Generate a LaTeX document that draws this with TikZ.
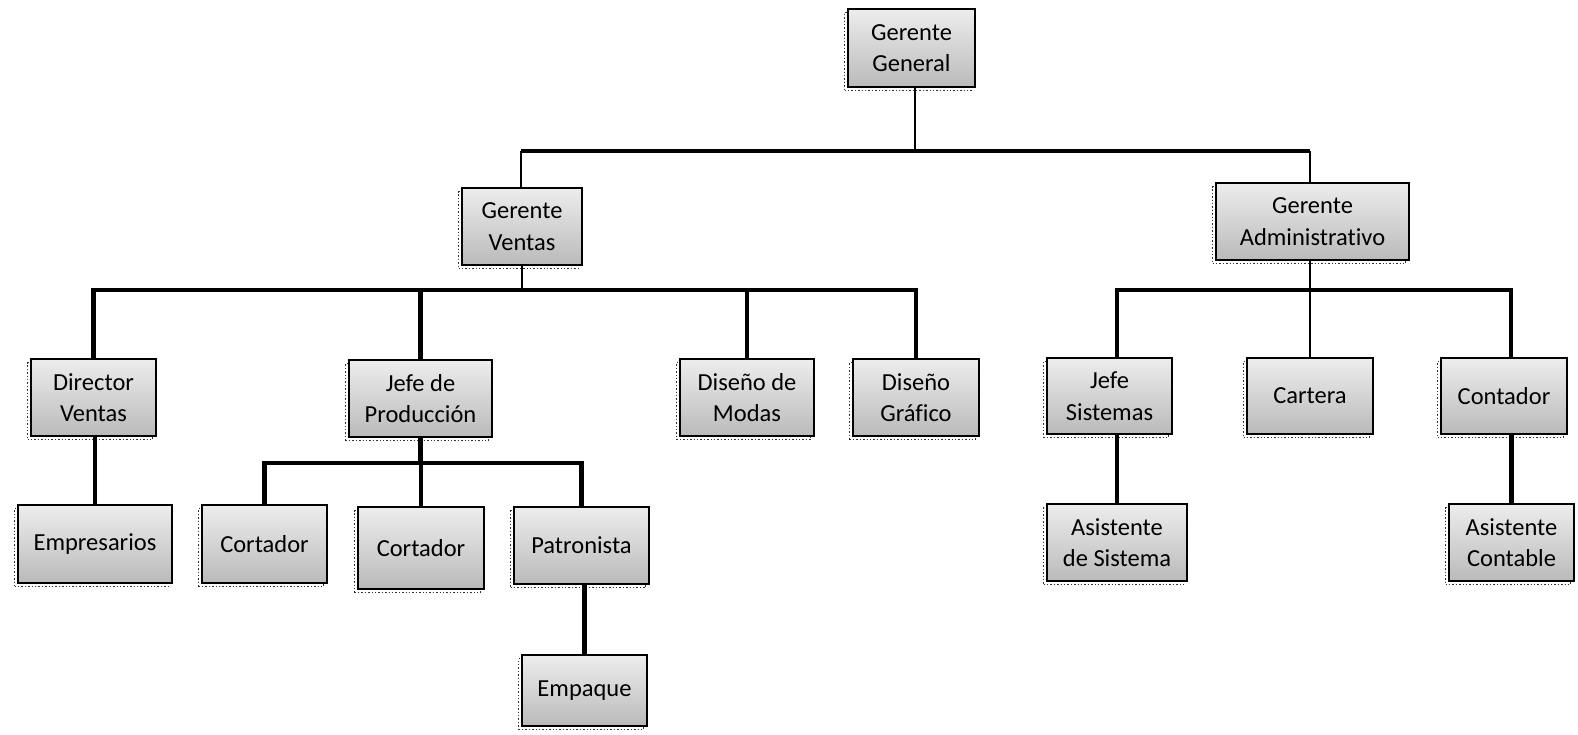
\documentclass[tikz,border=0pt]{standalone}
\usepackage{fontspec}
\setmainfont[Ligatures=NoCommon]{Carlito}
\definecolor{boxtop}{RGB}{237,237,237}
\definecolor{boxbot}{RGB}{186,186,186}
\begin{document}
\begin{tikzpicture}[x=1pt,y=-1pt,
  orgbox/.style={draw=black, line width=2.9pt, top color=boxtop, bottom color=boxbot,
    align=center, inner sep=0pt, font=\fontsize{24.5}{31.5}\selectfont,
    preaction={draw=black!80, dotted, line width=1.4pt,
      transform canvas={shift={(-3.5pt,-3.5pt)}}}},
  sz/.style 2 args={minimum width=#1pt, minimum height=#2pt},
  thinlink/.style={line width=2pt},
  toplink/.style={line width=3.8pt},
  thicklink/.style={line width=4.6pt, line join=miter},
]
\fill[white] (0,0) rectangle (1578,734);
\useasboundingbox (0,0) rectangle (1578,734);

% top level
\node[orgbox, sz={127}{78}] (gg) at (911.5,48) {Gerente\\General};

% second level
\node[orgbox, sz={120}{77}] (gv) at (522,226.5) {Gerente\\Ventas};
\node[orgbox, sz={193}{77}] (ga) at (1312.5,221.5) {Gerente\\Administrativo};

% sales branch
\node[orgbox, sz={125}{77}] (dv) at (93.5,397.5) {Director\\Ventas};
\node[orgbox, sz={143}{77}] (jp) at (420.5,398.5) {Jefe de\\Producción};
\node[orgbox, sz={134}{77}] (dm) at (747,397.5) {Diseño de\\Modas};
\node[orgbox, sz={126}{77}] (dg) at (916,397.5) {Diseño\\Gráfico};

\node[orgbox, sz={154}{78}] (em) at (95,544) {Empresarios};
\node[orgbox, sz={125}{78}] (c1) at (264.5,544) {Cortador};
\node[orgbox, sz={126}{82}] (c2) at (421,548) {Cortador};
\node[orgbox, sz={135}{77}] (pa) at (581.5,545.5) {Patronista};
\node[orgbox, sz={125}{71}] (ep) at (584.5,690.5) {Empaque};

% administration branch
\node[orgbox, sz={125}{76}] (js) at (1109.5,396) {Jefe\\Sistemas};
\node[orgbox, sz={126}{76}] (ca) at (1310,396) {Cartera};
\node[orgbox, sz={126}{76}] (co) at (1504,396) {Contador};
\node[orgbox, sz={140}{77}] (as) at (1117,542.5) {Asistente\\de Sistema};
\node[orgbox, sz={125}{77}] (ac) at (1511.5,542.5) {Asistente\\Contable};

% connector rails
\coordinate (r0l) at (521,151);
\coordinate (r0m) at (915,151);
\coordinate (r0r) at (1310,151);
\coordinate (r1) at (0,290);
\coordinate (r2w) at (1117,290);
\coordinate (r2e) at (1511,290);
\coordinate (r3) at (0,463);

% general manager to managers
\draw[thinlink] (gg.south -| r0m) -- (r0m);
\draw[toplink] (r0l) -- (r0r);
\draw[thinlink] (r0l) -- (r0l |- gv.north);
\draw[thinlink] (r0r) -- (r0r |- ga.north);

% sales manager to its staff
\draw[thinlink] (gv.south) -- (gv.south |- r1);
\draw[thicklink] (dv.north) -- (dv.north |- r1) -- (dg.north |- r1) -- (dg.north);
\draw[thicklink] (jp.north |- r1) -- (jp.north);
\draw[thicklink] (dm.north |- r1) -- (dm.north);
\draw[thicklink] (dv.south -| em.north) -- (em.north);

% production
\draw[thicklink] (jp.south) -- (jp.south |- r3);
\draw[thicklink] (c1.north) -- (c1.north |- r3) -- (pa.north |- r3) -- (pa.north);
\draw[thicklink] (c2.north |- r3) -- (c2.north);
\draw[thicklink] (pa.south -| ep.north) -- (ep.north);

% administrative manager to its staff
\draw[thinlink] (ga.south -| ca.north) -- (ca.north);
\draw[thicklink] (js.north -| r2w) -- (r2w) -- (r2e) -- (co.north -| r2e);
\draw[thicklink] (js.south -| as.north) -- (as.north);
\draw[thicklink] (co.south -| ac.north) -- (ac.north);
\end{tikzpicture}
\end{document}
